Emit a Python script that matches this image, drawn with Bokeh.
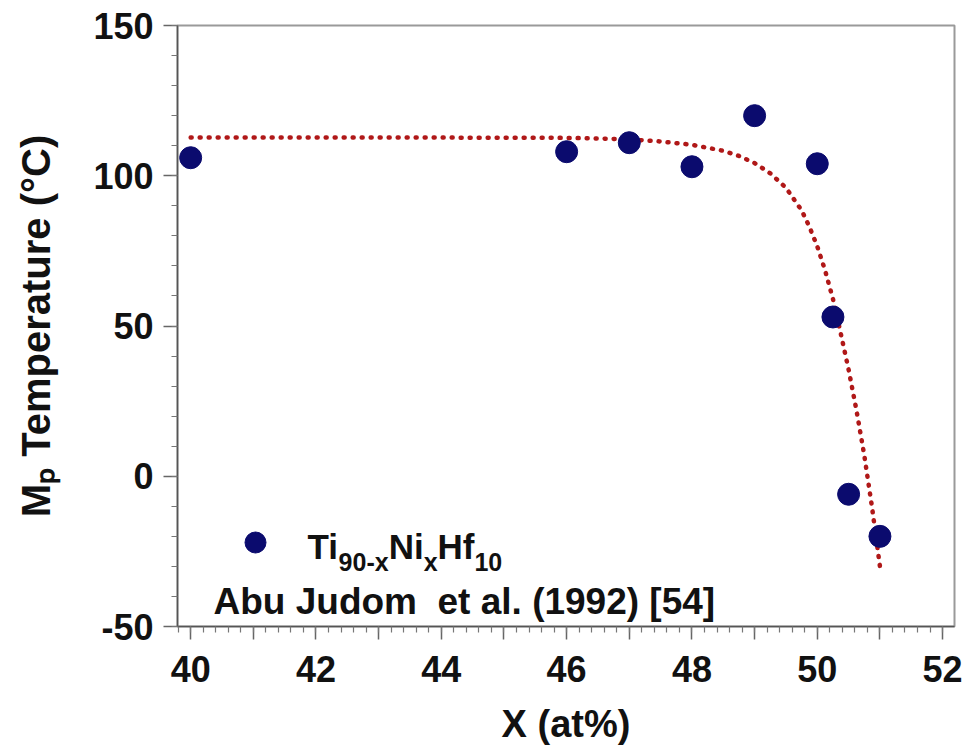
from bokeh.plotting import figure
from bokeh.models import Range1d, FixedTicker, Label
from bokeh.embed import file_html
from bokeh.resources import INLINE

# ---- data ----
x_at = [40, 46, 47, 48, 49, 50, 50.25, 50.5, 51]
mp_temp = [106, 108, 111, 103, 120, 104, 53, -6, -20]

fit_x = [40, 42, 44, 46, 46.5, 47, 47.5, 48, 48.5, 48.75, 49, 49.25, 49.5, 49.75,
         49.875, 50, 50.125, 50.25, 50.375, 50.5, 50.625, 50.75, 50.875, 51]
fit_t = [112.7, 112.7, 112.7, 112.6, 112.4, 112.1, 111.4, 110.3, 108.3, 106.6, 104.2,
         100.8, 96.0, 88.5, 83.0, 76.5, 68.5, 59.0, 47.5, 35.5, 22.0, 7.0, -10.5, -30.0]

x_ticks = list(range(40, 53))
x_labels = {t: (str(t) if t % 2 == 0 else "") for t in x_ticks}
y_ticks = [-50, 0, 50, 100, 150]
y_labels = {t: str(t) for t in y_ticks}

# ---- layout ----
W, H = 968, 752
FL, FR, FT, FB = 177, 14, 25, 126
XR = (39.79, 52.19)
YR = (-50, 150)
FONT = "Liberation Sans"
NAVY = "#0b0b6e"
RED = "#b01818"

p = figure(width=W, height=H, x_range=Range1d(*XR), y_range=Range1d(*YR),
           output_backend="svg", toolbar_location=None,
           min_border_left=FL, min_border_right=FR, min_border_top=FT, min_border_bottom=FB,
           background_fill_color="white", border_fill_color="white")
p.grid.visible = False
p.outline_line_color = "#9a9a9a"
p.outline_line_width = 2

p.xaxis.ticker = FixedTicker(ticks=x_ticks,
                             minor_ticks=[round(39.8 + 0.2 * i, 2) for i in range(63)])
p.xaxis.major_label_overrides = x_labels
p.yaxis.ticker = FixedTicker(ticks=y_ticks, minor_ticks=list(range(-50, 151, 10)))
p.yaxis.major_label_overrides = y_labels

for ax in (p.xaxis[0], p.yaxis[0]):
    ax.axis_line_color = "#555555"
    ax.axis_line_width = 1.5
    ax.major_tick_line_color = "#666666"
    ax.minor_tick_line_color = "#777777"
    ax.major_tick_line_width = 1.5
    ax.minor_tick_line_width = 1.2
    ax.major_tick_in = 0
    ax.minor_tick_in = 0
    ax.minor_tick_out = 6
    ax.major_label_text_font = FONT
    ax.major_label_text_font_style = "bold"
    ax.major_label_text_font_size = "36px"
    ax.major_label_text_color = "#111111"
    ax.axis_label_text_font = FONT
    ax.axis_label_text_font_style = "bold"
    ax.axis_label_text_color = "#111111"
p.yaxis.major_tick_out = 14
p.xaxis.major_tick_out = 13
p.yaxis.major_label_standoff = 10
p.xaxis.major_label_standoff = 16

p.xaxis.axis_label = "X (at%)"
p.xaxis.axis_label_text_font_size = "38px"
p.xaxis.axis_label_standoff = 18
p.yaxis.axis_label = "M\u209a Temperature (\u00b0C)"
p.yaxis.axis_label_text_font_size = "40px"
p.yaxis.axis_label_standoff = 32

# fit curve (dotted)
p.line(fit_x, fit_t, line_color=RED, line_width=4.5, line_dash="1 8", line_cap="round")

# data points
p.scatter(x_at, mp_temp, size=22, color=NAVY)

# ---- helpers for text placed in pixels ----
ARIAL_B = {'A': .722, 'b': .611, 'u': .611, ' ': .278, '\u00a0': .278, 'J': .556, 'd': .611,
           'o': .611, 'm': .889, 'e': .556, 't': .333, 'a': .556, 'l': .278, '.': .278,
           '(': .333, ')': .333, '[': .333, ']': .333, 'T': .611, 'i': .278, 'N': .722,
           'H': .722, 'f': .333, 'x': .556, '-': .333}
for d in "0123456789":
    ARIAL_B[d] = .556


def tw(s, size):
    return sum(ARIAL_B.get(c, .6) for c in s) * size


def lab(text, px, py, size):
    p.add_layout(Label(x=XR[0], y=YR[1], x_offset=px - FL, y_offset=-(py - FT),
                       text=text, text_font=FONT, text_font_style="bold",
                       text_font_size=f"{size}px", text_color="#111111",
                       text_align="left", text_baseline="alphabetic"))


def px_to_data(px, py):
    fw = W - FL - FR
    fh = H - FT - FB
    return (XR[0] + (px - FL) / fw * (XR[1] - XR[0]),
            YR[1] - (py - FT) / fh * (YR[1] - YR[0]))


# ---- legend ----
lx, ly = px_to_data(255, 542)
p.scatter([lx], [ly], size=21, color=NAVY)

BIG, SUB = 35, 25
base, subbase = 546, 561
cx = 307
for s, is_sub in [("Ti", False), ("90-x", True), ("Ni", False), ("x", True),
                  ("Hf", False), ("10", True)]:
    size = SUB if is_sub else BIG
    lab(s, cx, subbase if is_sub else base, size)
    cx += tw(s, size)

lab("Abu Judom\u00a0 et al. (1992) [54]", 213, 601, 37)

open("out.html", "w").write(file_html(p, INLINE))
